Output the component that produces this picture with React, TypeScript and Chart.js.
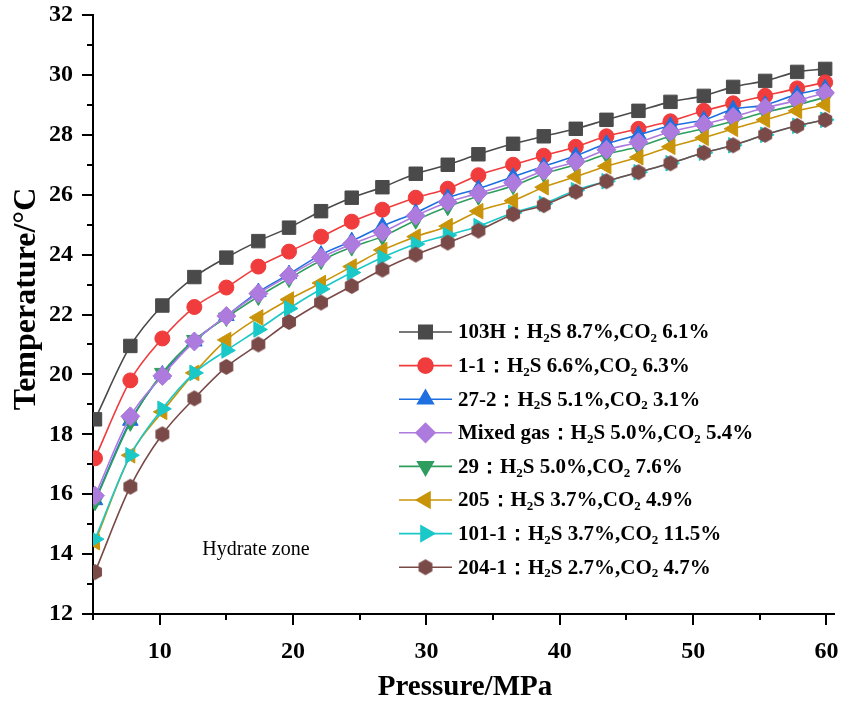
import React, { useEffect, useRef } from "react";
import { Chart, registerables } from "chart.js";
import { drawPoint } from "chart.js/helpers";

Chart.register(...registerables);

// ---------------- data ----------------
const pressure = [5.15, 7.8, 10.2, 12.6, 15.0, 17.4, 19.7, 22.1, 24.4, 26.7, 29.2, 31.6, 33.9, 36.5, 38.8, 41.2, 43.5, 45.9, 48.3, 50.8, 53.0, 55.4, 57.8, 59.9];

const t103H = [18.5, 20.95, 22.3, 23.25, 23.9, 24.45, 24.9, 25.45, 25.9, 26.25, 26.7, 27.0, 27.35, 27.7, 27.95, 28.2, 28.5, 28.8, 29.1, 29.3, 29.6, 29.8, 30.1, 30.2];
const t1_1 = [17.2, 19.8, 21.2, 22.25, 22.9, 23.6, 24.1, 24.6, 25.1, 25.5, 25.9, 26.2, 26.65, 27.0, 27.3, 27.6, 27.95, 28.2, 28.45, 28.8, 29.05, 29.3, 29.55, 29.75];
const t27_2 = [15.8, 18.45, 20.0, 21.1, 21.95, 22.75, 23.35, 24.0, 24.45, 24.95, 25.4, 25.9, 26.2, 26.6, 26.95, 27.3, 27.7, 28.0, 28.3, 28.5, 28.85, 29.0, 29.35, 29.55];
const tMixed = [15.95, 18.6, 19.95, 21.1, 21.95, 22.7, 23.3, 23.9, 24.35, 24.75, 25.3, 25.75, 26.05, 26.4, 26.8, 27.1, 27.5, 27.75, 28.1, 28.35, 28.6, 28.9, 29.15, 29.4];
const t29 = [15.75, 18.4, 20.05, 21.15, 21.9, 22.6, 23.2, 23.8, 24.25, 24.6, 25.15, 25.6, 25.95, 26.3, 26.7, 27.0, 27.35, 27.6, 27.95, 28.2, 28.45, 28.75, 29.0, 29.25];
const t205 = [14.4, 17.3, 18.75, 20.05, 21.15, 21.9, 22.5, 23.05, 23.6, 24.15, 24.6, 24.95, 25.45, 25.8, 26.25, 26.6, 26.95, 27.25, 27.6, 27.9, 28.2, 28.5, 28.8, 29.0];
const t101_1 = [14.5, 17.3, 18.85, 20.05, 20.8, 21.5, 22.2, 22.85, 23.4, 23.9, 24.35, 24.65, 24.95, 25.4, 25.7, 26.15, 26.45, 26.75, 27.05, 27.4, 27.65, 28.0, 28.3, 28.5];
const t204_1 = [13.4, 16.25, 18.0, 19.2, 20.25, 21.0, 21.75, 22.4, 22.95, 23.5, 24.0, 24.4, 24.8, 25.35, 25.65, 26.1, 26.45, 26.75, 27.05, 27.4, 27.65, 28.0, 28.3, 28.5];

const seriesLabels = [
  "103H：H₂S 8.7%,CO₂ 6.1%",
  "1-1：H₂S 6.6%,CO₂ 6.3%",
  "27-2：H₂S 5.1%,CO₂ 3.1%",
  "Mixed gas：H₂S 5.0%,CO₂ 5.4%",
  "29：H₂S 5.0%,CO₂ 7.6%",
  "205：H₂S 3.7%,CO₂ 4.9%",
  "101-1：H₂S 3.7%,CO₂ 11.5%",
  "204-1：H₂S 2.7%,CO₂ 4.7%",
];
const seriesValues = [t103H, t1_1, t27_2, tMixed, t29, t205, t101_1, t204_1];

const xTickValues = [10, 20, 30, 40, 50, 60];
const yTickValues = [12, 14, 16, 18, 20, 22, 24, 26, 28, 30, 32];
const xTitle = "Pressure/MPa";
const yTitle = "Temperature/°C";
const zoneLabel = "Hydrate zone";

// ---------------- styles ----------------
const colors = ["#4a4a4a", "#f03c3c", "#1e6fe0", "#ad7ade", "#2e9e5e", "#c99409", "#1ac8c8", "#7a4a48"];
const drawOrder = [7, 6, 5, 3, 4, 2, 1, 0];

function makeHexagon(color: string, r: number) {
  const c = document.createElement("canvas");
  const s = Math.ceil(r * 2 + 2);
  c.width = s;
  c.height = s;
  const ctx = c.getContext("2d")!;
  ctx.fillStyle = color;
  ctx.beginPath();
  for (let i = 0; i < 6; i++) {
    const a = Math.PI / 2 + (i * Math.PI) / 3;
    const px = s / 2 + r * Math.cos(a);
    const py = s / 2 + r * Math.sin(a);
    if (i === 0) ctx.moveTo(px, py);
    else ctx.lineTo(px, py);
  }
  ctx.closePath();
  ctx.fill();
  return c;
}

const SERIF = "'Liberation Serif', 'Times New Roman', serif";

function drawRichText(ctx: CanvasRenderingContext2D, text: string, x: number, y: number, size: number) {
  let cx = x;
  for (const ch of text) {
    if (ch === "₂") {
      ctx.font = `bold ${Math.round(size * 0.62)}px ${SERIF}`;
      ctx.fillText("2", cx, y + size * 0.28);
      cx += ctx.measureText("2").width;
    } else {
      ctx.font = `bold ${size}px ${SERIF}`;
      ctx.fillText(ch, cx, y);
      cx += ctx.measureText(ch).width;
    }
  }
}

export default function App() {
  const ref = useRef<HTMLCanvasElement>(null);

  useEffect(() => {
    const hex = makeHexagon(colors[7], 8);
    const styles: any[] = [
      { pointStyle: "rect", radius: 9.5, rotation: 0 },
      { pointStyle: "circle", radius: 7.5, rotation: 0 },
      { pointStyle: "triangle", radius: 9, rotation: 0 },
      { pointStyle: "rectRot", radius: 9.5, rotation: 0 },
      { pointStyle: "triangle", radius: 9, rotation: 180 },
      { pointStyle: "triangle", radius: 9, rotation: 270 },
      { pointStyle: "triangle", radius: 9, rotation: 90 },
      { pointStyle: hex, radius: 8, rotation: 0 },
    ];

    const datasets = seriesLabels.map((label, i) => ({
      label,
      data: pressure.map((p, j) => ({ x: p, y: seriesValues[i][j] })),
      borderColor: colors[i],
      backgroundColor: colors[i],
      pointBackgroundColor: colors[i],
      pointBorderColor: colors[i],
      pointBorderWidth: 1,
      borderWidth: 1.6,
      pointStyle: styles[i].pointStyle,
      pointRadius: styles[i].radius,
      pointRotation: styles[i].rotation,
      cubicInterpolationMode: "monotone" as const,
      order: drawOrder[i],
    }));

    const extras = {
      id: "extras",
      afterDraw(chart: any) {
        const ctx: CanvasRenderingContext2D = chart.ctx;
        const xs = chart.scales.x;
        const ys = chart.scales.y;
        const area = chart.chartArea;
        ctx.save();
        // tick marks
        ctx.strokeStyle = "#000";
        ctx.lineWidth = 2;
        for (let v = 12; v <= 32; v += 1) {
          const py = Math.round(ys.getPixelForValue(v));
          const len = v % 2 === 0 ? 11 : 6;
          ctx.beginPath();
          ctx.moveTo(area.left, py);
          ctx.lineTo(area.left - len, py);
          ctx.stroke();
        }
        for (let v = 5; v <= 60; v += 5) {
          const px = Math.round(xs.getPixelForValue(v));
          const len = v % 10 === 0 ? 11 : 6;
          ctx.beginPath();
          ctx.moveTo(px, area.bottom);
          ctx.lineTo(px, area.bottom + len);
          ctx.stroke();
        }
        // axis titles
        ctx.fillStyle = "#000";
        ctx.textAlign = "center";
        ctx.textBaseline = "middle";
        ctx.font = `bold 29px ${SERIF}`;
        ctx.fillText(xTitle, 465, 688);
        ctx.save();
        ctx.translate(27, 299);
        ctx.rotate(-Math.PI / 2);
        ctx.font = `bold 32px ${SERIF}`;
        ctx.fillText(yTitle, 0, 0);
        ctx.restore();
        // annotation
        ctx.font = `20px ${SERIF}`;
        ctx.textAlign = "left";
        ctx.textBaseline = "middle";
        ctx.fillText(zoneLabel, xs.getPixelForValue(13.2), ys.getPixelForValue(14.15));
        // legend
        const lx0 = 399;
        const lx1 = 452;
        const ly0 = 332;
        const dy = 33.6;
        const fs = 21;
        chart.data.datasets.forEach((ds: any, i: number) => {
          const y = ly0 + i * dy;
          ctx.strokeStyle = colors[i];
          ctx.lineWidth = 1.6;
          ctx.beginPath();
          ctx.moveTo(lx0, y);
          ctx.lineTo(lx1, y);
          ctx.stroke();
          ctx.fillStyle = colors[i];
          drawPoint(ctx, {
            pointStyle: ds.pointStyle,
            radius: ds.pointRadius,
            rotation: ds.pointRotation,
            borderWidth: 1,
          } as any, (lx0 + lx1) / 2, y);
          ctx.fillStyle = "#000";
          ctx.textAlign = "left";
          ctx.textBaseline = "middle";
          drawRichText(ctx, ds.label, 458, y + 1, fs);
        });
        ctx.restore();
      },
    };

    const chart = new Chart(ref.current!, {
      type: "line",
      data: { datasets },
      options: {
        animation: false,
        responsive: false,
        devicePixelRatio: 1,
        layout: { padding: { top: 15, right: 0, left: 0, bottom: 0 } },
        plugins: { legend: { display: false }, tooltip: { enabled: false } },
        scales: {
          x: {
            type: "linear",
            min: 5,
            max: 60.6,
            afterFit: (s: any) => { s.height = 90; s.paddingLeft = 0; s.paddingRight = 0; },
            afterBuildTicks: (s: any) => { s.ticks = xTickValues.map((v) => ({ value: v })); },
            grid: { display: false, drawTicks: false },
            border: { display: true, color: "#000", width: 2 },
            ticks: { color: "#000", padding: 23, font: { family: SERIF, size: 24, weight: "bold" } },
            title: { display: false, text: xTitle },
          },
          y: {
            type: "linear",
            min: 12,
            max: 32,
            afterFit: (s: any) => { s.width = 93; s.paddingTop = 0; s.paddingBottom = 0; },
            afterBuildTicks: (s: any) => { s.ticks = yTickValues.map((v) => ({ value: v })); },
            grid: { display: false, drawTicks: false },
            border: { display: true, color: "#000", width: 2 },
            ticks: { color: "#000", padding: 20, font: { family: SERIF, size: 24, weight: "bold" } },
            title: { display: false, text: yTitle },
          },
        },
      },
      plugins: [extras],
    } as any);
    return () => chart.destroy();
  }, []);

  return (
    <div style={{ position: "absolute", left: 0, top: 0, width: 845, height: 704, background: "#fff" }}>
      <canvas ref={ref} width={845} height={704} style={{ display: "block" }} />
    </div>
  );
}
